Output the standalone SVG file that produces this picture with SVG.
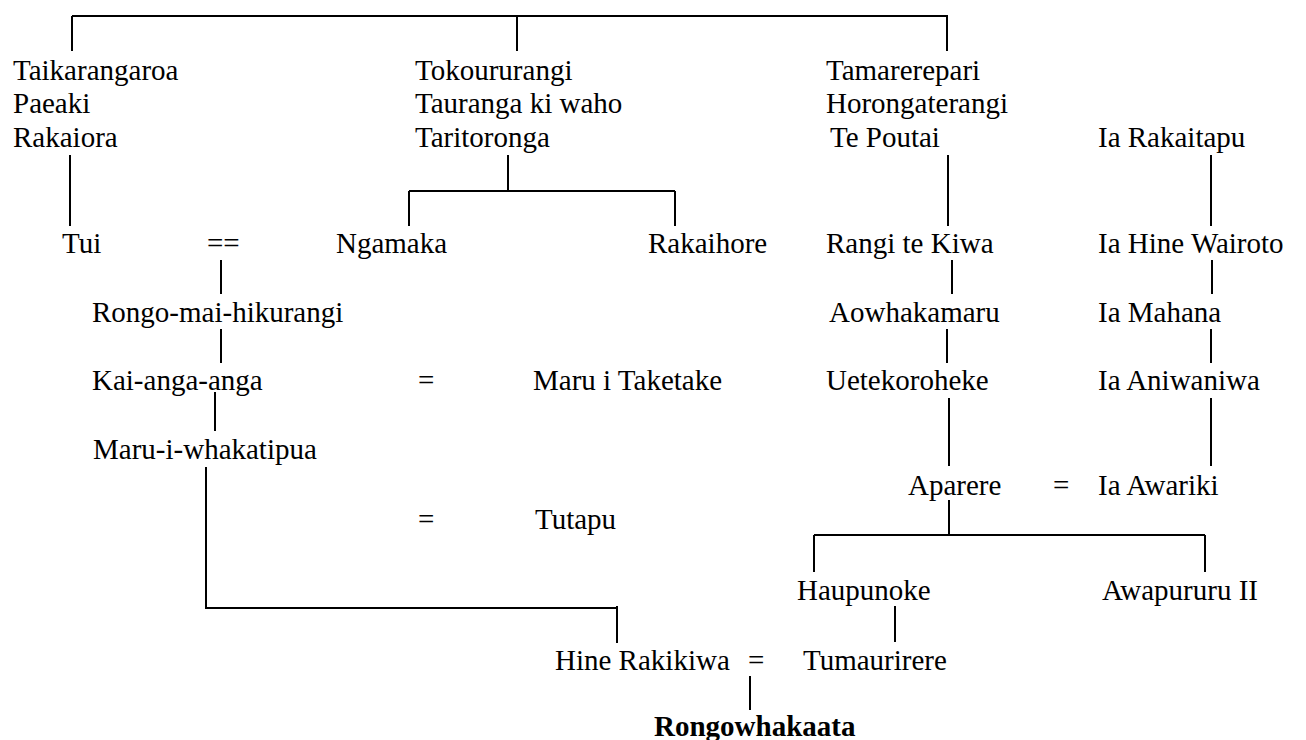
<svg xmlns="http://www.w3.org/2000/svg" width="1306" height="740" viewBox="0 0 1306 740">
<style>
text{font-family:"Liberation Serif","Times New Roman",serif;font-size:29px;fill:#000}
.b{font-weight:bold}
.c path{fill:none;stroke:#000;stroke-width:2}
</style>
<rect width="1306" height="740" fill="#fff"/>
<g class="c" id="connectors">
<path d="M72,16 H948 M72,16 V51 M517,16 V51 M947,16 V51"/>
<path d="M70,155 V226"/>
<path d="M508,155 V191 M409,191 H675 M409,191 V226 M675,191 V226"/>
<path d="M948,155 V226"/>
<path d="M1211,155 V226"/>
<path d="M221,260 V294 M221,329 V363 M215,392 V431"/>
<path d="M206,467 V608 H617 M617,606 V643"/>
<path d="M952,260 V294 M947,329 V363 M949,398 V466"/>
<path d="M1212,260 V294 M1211,329 V363 M1211,398 V466"/>
<path d="M949,500 V535 M814,535 H1205 M814,535 V572 M1205,535 V572"/>
<path d="M895,606 V642"/>
<path d="M750,676 V710"/>
</g>
<g id="n_taikarangaroa"><text x="13" y="80">Taikarangaroa</text><text x="13" y="113">Paeaki</text><text x="13" y="147">Rakaiora</text></g>
<g id="n_tokoururangi"><text x="415" y="80">Tokoururangi</text><text x="415" y="113">Tauranga ki waho</text><text x="415" y="147">Taritoronga</text></g>
<g id="n_tamarerepari"><text x="826" y="80">Tamarerepari</text><text x="826" y="113">Horongaterangi</text><text x="830" y="147">Te Poutai</text></g>
<g id="n_iarakaitapu"><text x="1098" y="147">Ia Rakaitapu</text></g>
<g id="n_tui"><text x="62" y="253">Tui</text></g>
<g id="m_tui"><text x="207" y="253">==</text></g>
<g id="n_ngamaka"><text x="336" y="253">Ngamaka</text></g>
<g id="n_rakaihore"><text x="648" y="253">Rakaihore</text></g>
<g id="n_rangitekiwa"><text x="826" y="253">Rangi te Kiwa</text></g>
<g id="n_iahinewairoto"><text x="1098" y="253">Ia Hine Wairoto</text></g>
<g id="n_rongomaihikurangi"><text x="92" y="322">Rongo-mai-hikurangi</text></g>
<g id="n_aowhakamaru"><text x="829" y="322">Aowhakamaru</text></g>
<g id="n_iamahana"><text x="1098" y="322">Ia Mahana</text></g>
<g id="n_kaiangaanga"><text x="92" y="390">Kai-anga-anga</text></g>
<g id="m_kai"><text x="418" y="390">=</text></g>
<g id="n_maruitaketake"><text x="533" y="390">Maru i Taketake</text></g>
<g id="n_uetekoroheke"><text x="826" y="390">Uetekoroheke</text></g>
<g id="n_iaaniwaniwa"><text x="1098" y="390">Ia Aniwaniwa</text></g>
<g id="n_maruiwhakatipua"><text x="93" y="459">Maru-i-whakatipua</text></g>
<g id="n_aparere"><text x="908" y="495">Aparere</text></g>
<g id="m_aparere"><text x="1053" y="495">=</text></g>
<g id="n_iaawariki"><text x="1098" y="495">Ia Awariki</text></g>
<g id="m_tutapu"><text x="418" y="529">=</text></g>
<g id="n_tutapu"><text x="535" y="529">Tutapu</text></g>
<g id="n_haupunoke"><text x="797" y="600">Haupunoke</text></g>
<g id="n_awapururu"><text x="1102" y="600">Awapururu II</text></g>
<g id="n_hinerakikiwa"><text x="555" y="670">Hine Rakikiwa</text></g>
<g id="m_hine"><text x="748" y="670">=</text></g>
<g id="n_tumaurirere"><text x="803" y="670">Tumaurirere</text></g>
<g id="n_rongowhakaata"><text class="b" x="654" y="736">Rongowhakaata</text></g>
</svg>
